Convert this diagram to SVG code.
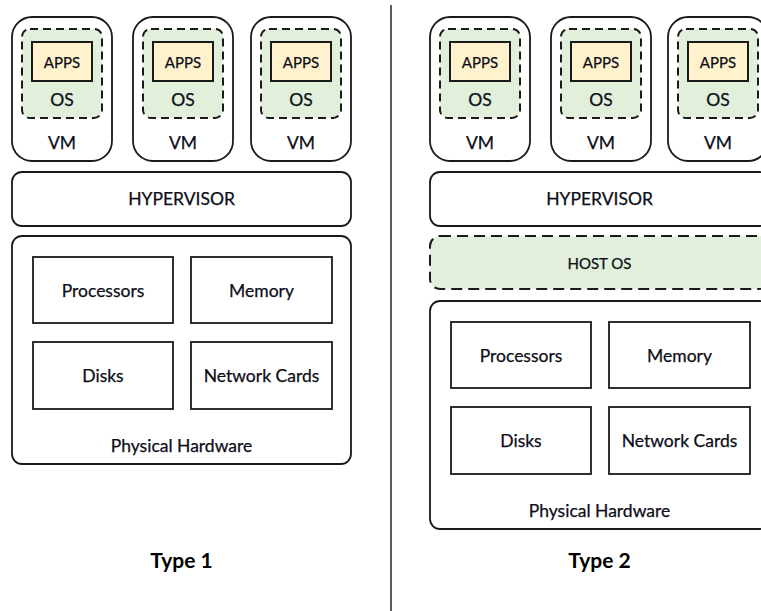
<svg xmlns="http://www.w3.org/2000/svg" width="761" height="611" viewBox="0 0 761 611">
  <style>
    .frame { fill: #ffffff; stroke: #1a1a1a; stroke-width: 1.8; }
    .os { fill: #e2efda; stroke: #1a1a1a; stroke-width: 2; stroke-dasharray: 8 5; }
    .host { stroke-dasharray: 11 6; }
    .apps { fill: #fff2cc; stroke: #1a1a1a; stroke-width: 2; }
    .part { fill: #ffffff; stroke: #1a1a1a; stroke-width: 1.8; }
    text { font-family: Lato, "Liberation Sans", sans-serif; fill: #0d0d18; text-anchor: middle; dominant-baseline: central; stroke: #0d0d18; stroke-width: 0.25; }
    .t16 { font-size: 17.5px; }
    .t14 { font-size: 15px; }
    .title { font-size: 21px; font-weight: bold; fill: #000; stroke: none; }
  </style>
  <defs>
    <!-- one virtual machine: VM frame, guest OS and applications -->
    <g id="vm">
      <rect class="frame" x="0" y="0" width="100" height="144" rx="20"/>
      <rect class="os" x="10" y="12" width="80" height="89" rx="8"/>
      <rect class="apps" x="20" y="25" width="60" height="39"/>
      <text class="t14" x="50" y="44.5">APPS</text>
      <text class="t16" x="50" y="82">OS</text>
      <text class="t16" x="50" y="125">VM</text>
    </g>
    <!-- physical hardware block with its four components -->
    <g id="hw">
      <rect class="frame" x="0" y="0" width="339" height="228" rx="10"/>
      <rect class="part" x="21" y="21" width="140" height="66"/>
      <rect class="part" x="179" y="21" width="141" height="66"/>
      <rect class="part" x="21" y="106" width="140" height="67"/>
      <rect class="part" x="179" y="106" width="141" height="67"/>
      <text class="t16" x="91" y="54">Processors</text>
      <text class="t16" x="249.5" y="54">Memory</text>
      <text class="t16" x="91" y="139.5">Disks</text>
      <text class="t16" x="249.5" y="139.5">Network Cards</text>
      <text class="t16" x="169.5" y="209">Physical Hardware</text>
    </g>
  </defs>

  <!-- divider between the two hypervisor types -->
  <g id="connectors">
    <line x1="391" y1="5" x2="391" y2="611" stroke="#333" stroke-width="1.6"/>
  </g>

  <!-- Type 1: bare-metal hypervisor -->
  <g id="t1-vm1"><use href="#vm" x="12" y="17"/></g>
  <g id="t1-vm2"><use href="#vm" x="133" y="17"/></g>
  <g id="t1-vm3"><use href="#vm" x="251" y="17"/></g>
  <g id="t1-hypervisor">
    <rect class="frame" x="12" y="172" width="339" height="54" rx="10"/>
    <text class="t16" x="181.5" y="198.5">HYPERVISOR</text>
  </g>
  <g id="t1-hardware"><use href="#hw" x="12" y="236"/></g>
  <g id="t1-label"><text class="title" x="181.5" y="559">Type 1</text></g>

  <!-- Type 2: hosted hypervisor -->
  <g id="t2-vm1"><use href="#vm" x="430" y="17"/></g>
  <g id="t2-vm2"><use href="#vm" x="551" y="17"/></g>
  <g id="t2-vm3"><use href="#vm" x="668" y="17"/></g>
  <g id="t2-hypervisor">
    <rect class="frame" x="430" y="172" width="339" height="54" rx="10"/>
    <text class="t16" x="599.5" y="198.5">HYPERVISOR</text>
  </g>
  <g id="t2-hostos">
    <rect class="os host" x="430" y="236" width="339" height="53" rx="10"/>
    <text class="t14" x="599.5" y="262.5">HOST OS</text>
  </g>
  <g id="t2-hardware"><use href="#hw" x="430" y="301"/></g>
  <g id="t2-label"><text class="title" x="599.5" y="559">Type 2</text></g>
</svg>
